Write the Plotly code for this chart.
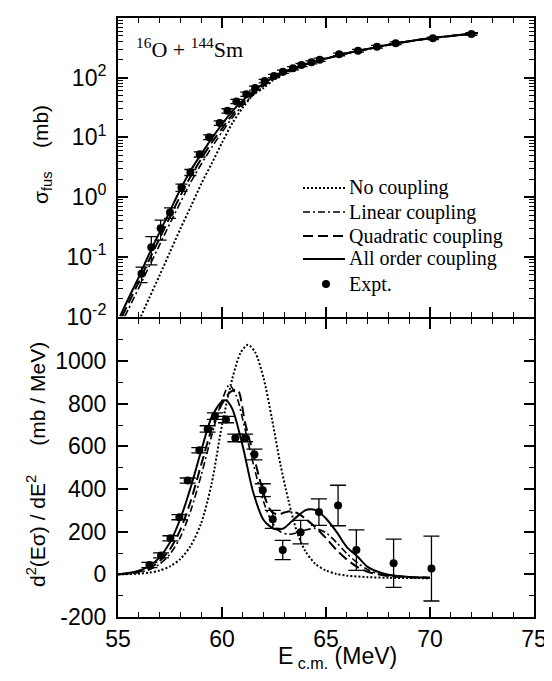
import plotly.graph_objects as go

# ---------------- top panel: fusion cross section ----------------
E_expt = [56.13, 56.6, 57.05, 57.5, 58.05, 58.48, 58.93, 59.38, 59.89, 60.26, 60.69, 61.17,
          61.59, 62.05, 62.5, 62.93, 63.41, 63.82, 64.3, 64.7, 65.63, 66.54, 67.45, 68.35,
          70.14, 71.99]
sig_expt = [0.052, 0.145, 0.30, 0.55, 1.45, 2.6, 5.2, 10.1, 17.4, 27.9, 40, 53,
            67, 88, 107, 126, 144, 163, 181, 200, 246, 284, 330, 378, 458, 540]
sig_err = [0.015, 0.072, 0.11, 0.11, 0.2, 0.3, 0.5, 0.9, 1.5, 2.3, 3.2, 4.2,
           5, 6, 7, 8, 9, 10, 11, 12, 13, 15, 17, 19, 22, 26]

E_tail = [64.0, 64.5, 65.0, 66.0, 67.0, 68.0, 69.0, 70.0, 71.0, 72.3]
sig_tail = [166, 186, 209, 257, 302, 355, 407, 457, 501, 562]

E_all = [55.1, 55.5, 56.0, 56.5, 57.0, 57.5, 58.0, 58.5, 59.0, 59.5, 60.0, 60.5, 61.0,
         61.5, 62.0, 62.5, 63.0, 63.5] + E_tail
sig_all = [0.0100, 0.0200, 0.0457, 0.112, 0.257, 0.589, 1.35, 2.82, 5.25, 9.55, 16.6, 27.5,
           41.7, 58.9, 79.4, 102, 123, 145] + sig_tail

E_quad = [55.2, 55.5, 56.0, 56.5, 57.0, 57.5, 58.0, 58.5, 59.0, 59.5, 60.0, 60.5, 61.0,
          61.5, 62.0, 62.5, 63.0, 63.5] + E_tail
sig_quad = [0.0100, 0.0166, 0.0380, 0.0891, 0.204, 0.468, 1.05, 2.24, 4.37, 8.13, 14.1, 24.0,
            38.0, 55.0, 75.9, 100, 123, 145] + sig_tail

E_lin = [55.32, 55.5, 56.0, 56.5, 57.0, 57.5, 58.0, 58.5, 59.0, 59.5, 60.0, 60.5, 61.0,
         61.5, 62.0, 62.5, 63.0, 63.5] + E_tail
sig_lin = [0.0100, 0.0132, 0.0302, 0.0692, 0.158, 0.363, 0.813, 1.78, 3.55, 6.76, 12.3, 21.4,
           34.7, 51.3, 72.4, 97.7, 120, 145] + sig_tail

E_none = [56.1, 56.5, 57.0, 57.5, 58.0, 58.5, 59.0, 59.5, 60.0, 60.5, 61.0, 61.5, 62.0,
          62.5, 63.0, 63.5, 64.0, 64.5, 65.0, 66.0, 67.0, 68.0, 69.0, 70.0, 71.0, 72.3]
sig_none = [0.0100, 0.0204, 0.0490, 0.120, 0.295, 0.692, 1.66, 3.63, 8.13, 17.4, 31.6, 51.3,
            67.6, 93.3, 115, 138, 162, 186, 209, 257, 302, 355, 407, 457, 501, 562]

# ---------------- bottom panel: barrier distribution ----------------
bd_E = [56.51, 57.07, 57.52, 57.95, 58.35, 58.91, 59.31, 59.66, 60.19, 60.64, 61.11, 61.56,
        61.96, 62.44, 62.92, 63.78, 64.66, 65.58, 66.46, 68.25, 70.07]
bd_val = [44, 89, 169, 268, 440, 582, 682, 742, 726, 640, 640, 562,
          395, 258, 114, 198, 292, 323, 114, 52, 27]
bd_err = [12, 12, 12, 12, 12, 12, 15, 15, 15, 18, 18, 25,
          30, 42, 45, 55, 62, 95, 95, 113, 152]

bdE_all = [55.0, 55.5, 56.0, 56.5, 57.0, 57.5, 58.0, 58.5, 59.0, 59.5, 60.0, 60.2, 60.5, 61.0,
           61.5, 62.0, 62.5, 62.8, 63.0, 63.5, 64.0, 64.3, 64.6, 65.0, 65.5, 66.0, 66.5, 67.0,
           67.5, 68.0, 68.5, 69.0, 70.0]
bd_all = [0, 6, 17, 38, 80, 150, 262, 410, 580, 737, 812, 816, 775, 600,
          385, 255, 213, 211, 218, 262, 300, 305, 296, 262, 200, 128, 85, 35,
          12, -2, -8, -12, -16]

bdE_quad = [55.0, 55.5, 56.0, 56.5, 57.0, 57.5, 58.0, 58.5, 59.0, 59.5, 60.0, 60.4, 60.75, 61.1,
            61.5, 61.8, 62.1, 62.4, 62.7, 63.0, 63.3, 63.6, 64.0, 64.5, 65.0, 65.5, 66.0, 66.5,
            67.0, 67.5, 68.0, 69.0, 70.0]
bd_quad = [0, 4, 12, 28, 62, 118, 210, 345, 515, 680, 800, 855, 866, 715,
           565, 450, 350, 292, 280, 290, 296, 288, 262, 220, 170, 115, 70, 35,
           12, 0, -8, -13, -16]

bdE_lin = [55.0, 55.5, 56.0, 56.5, 57.0, 57.5, 58.0, 58.5, 59.0, 59.5, 60.0, 60.35, 60.7, 61.0,
           61.5, 62.0, 62.4, 62.8, 63.2, 63.6, 64.0, 64.5, 65.0, 65.5, 66.0, 66.5, 67.0, 67.5,
           68.0, 69.0, 70.0]
bd_lin = [0, 3, 9, 22, 48, 95, 175, 300, 465, 650, 815, 888, 835, 725,
          520, 340, 245, 200, 188, 195, 208, 215, 195, 150, 98, 55, 22, 3,
          -7, -13, -16]

bdE_none = [55.0, 56.0, 56.5, 57.0, 57.5, 58.0, 58.5, 59.0, 59.5, 60.0, 60.5, 60.9, 61.25, 61.6,
            62.0, 62.4, 62.8, 63.2, 63.6, 64.0, 64.5, 65.0, 65.5, 66.0, 67.0, 68.0, 70.0]
bd_none = [0, 3, 8, 18, 38, 72, 135, 240, 425, 700, 920, 1040, 1077, 1040,
           920, 730, 520, 345, 200, 110, 48, 18, 2, -6, -13, -16, -18]

x_ticks = [55, 60, 65, 70, 75]
y1_ticks = [0.01, 0.1, 1, 10, 100, 1000]
y1_text = ["10<sup>-2</sup>", "10<sup>-1</sup>", "10<sup>0</sup>", "10<sup>1</sup>",
           "10<sup>2</sup>", "10<sup>3</sup>"]
y2_ticks = [-200, 0, 200, 400, 600, 800, 1000]
y2_text = ["-200", "0", "200", "400", "600", "800", "1000"]

legend_names = ["No coupling", "Linear coupling", "Quadratic coupling", "All order coupling", "Expt."]

SANS = "Liberation Sans, Arial, sans-serif"
SERIF = "Liberation Serif, Times New Roman, serif"
TICK_SIZE = 23

styles = {
    "none": dict(color="black", width=2, dash="2px,2px"),
    "lin": dict(color="black", width=1.6, dash="7px,3px,2px,3px"),
    "quad": dict(color="black", width=2, dash="10px,5px"),
    "all": dict(color="black", width=2),
}
style_keys = ["none", "lin", "quad", "all"]

fig = go.Figure()

curves_top = [(E_none, sig_none), (E_lin, sig_lin), (E_quad, sig_quad), (E_all, sig_all)]
for (xs, ys), key, name in zip(curves_top, style_keys, legend_names[:4]):
    fig.add_trace(go.Scatter(x=xs, y=ys, mode="lines", name=name,
                             line=dict(**styles[key], shape="spline", smoothing=0.8),
                             xaxis="x", yaxis="y", showlegend=False))
fig.add_trace(go.Scatter(x=E_expt, y=sig_expt, mode="markers", name=legend_names[4],
                         marker=dict(color="black", size=8),
                         error_y=dict(type="data", array=sig_err, color="black",
                                      thickness=1.3, width=6),
                         xaxis="x", yaxis="y", showlegend=False))

curves_bot = [(bdE_none, bd_none), (bdE_lin, bd_lin), (bdE_quad, bd_quad), (bdE_all, bd_all)]
for (xs, ys), key in zip(curves_bot, style_keys):
    fig.add_trace(go.Scatter(x=xs, y=ys, mode="lines",
                             line=dict(**styles[key], shape="spline", smoothing=0.8),
                             xaxis="x2", yaxis="y2", showlegend=False))
fig.add_trace(go.Scatter(x=bd_E, y=bd_val, mode="markers",
                         marker=dict(color="black", size=8),
                         error_y=dict(type="data", array=bd_err, color="black",
                                      thickness=1.3, width=8),
                         xaxis="x2", yaxis="y2", showlegend=False))

# page offset: the browser's default body margin is 8px
OFF = 8
FIG_W, FIG_H = 552 - OFF, 681 - 2 * OFF
# plot area in page pixels: x 118..534, y 18..617
L, T, W, H = 118 - OFF, 18 - OFF, 416, 599


def px(xp):  # page pixel x -> paper
    return (xp - 118) / W


def py(yp):  # page pixel y -> paper
    return (617 - yp) / H


legend_rows = [188, 212, 236, 259, 284]
shapes = []
annotations = []
for i, name in enumerate(legend_names):
    yy = py(legend_rows[i])
    if i < 4:
        st = styles[style_keys[i]]
        shapes.append(dict(type="line", xref="paper", yref="paper",
                           x0=px(303), x1=px(345), y0=yy, y1=yy,
                           line=dict(color="black", width=st["width"], dash=st.get("dash", "solid"))))
    else:
        shapes.append(dict(type="circle", xref="paper", yref="paper",
                           x0=px(322), x1=px(330), y0=py(legend_rows[i] - 4), y1=py(legend_rows[i] + 4),
                           fillcolor="black", line=dict(color="black", width=0)))
    annotations.append(dict(text=name, xref="paper", yref="paper", x=px(347), y=yy,
                            xanchor="left", yanchor="middle", showarrow=False,
                            font=dict(family=SERIF, size=20, color="black")))

common_x = dict(range=[55, 75], tickvals=x_ticks, ticks="inside", ticklen=10, tickwidth=1.5,
                tickcolor="black", showline=True, linewidth=2, linecolor="black",
                mirror="allticks", showgrid=False, zeroline=False, automargin=False,
                minor=dict(ticks="inside", ticklen=5, tickwidth=1.2, tickcolor="black",
                           dtick=1, tick0=55, showgrid=False),
                tickfont=dict(family=SANS, size=TICK_SIZE, color="black"))

gap = 1.0 / H
fig.update_layout(
    width=FIG_W, height=FIG_H,
    margin=dict(l=L, r=FIG_W - L - W, t=T, b=FIG_H - T - H),
    paper_bgcolor="white", plot_bgcolor="white",
    showlegend=False,
    xaxis=dict(common_x, anchor="y", domain=[0, 1], showticklabels=False),
    xaxis2=dict(common_x, anchor="y2", domain=[0, 1], showticklabels=True),
    yaxis=dict(type="log", range=[-2, 3], domain=[0.5 + gap, 1], anchor="x",
               tickvals=y1_ticks, ticktext=y1_text, ticks="inside", ticklen=10, tickwidth=1.5,
               tickcolor="black", showline=True, linewidth=2, linecolor="black",
               mirror="allticks", showgrid=False, zeroline=False, ticklabelstandoff=5,
               automargin=False,
               minor=dict(ticks="inside", ticklen=5, tickwidth=1.2, tickcolor="black",
                          dtick="D1", showgrid=False),
               tickfont=dict(family=SANS, size=TICK_SIZE, color="black")),
    yaxis2=dict(range=[-200, 1200], domain=[0, 0.5 - gap], anchor="x2",
                tickvals=y2_ticks, ticktext=y2_text, ticks="inside", ticklen=10, tickwidth=1.5,
                tickcolor="black", showline=True, linewidth=2, linecolor="black",
                mirror="allticks", showgrid=False, zeroline=False, ticklabelstandoff=5,
                automargin=False,
                minor=dict(ticks="inside", ticklen=5, tickwidth=1.2, tickcolor="black",
                           dtick=100, tick0=0, showgrid=False),
                tickfont=dict(family=SANS, size=TICK_SIZE, color="black")),
    shapes=shapes,
    annotations=annotations + [
        dict(text="<sup>16</sup>O + <sup>144</sup>Sm", xref="paper", yref="paper",
             x=px(134), y=py(48), xanchor="left", yanchor="middle", showarrow=False,
             font=dict(family=SERIF, size=22, color="black")),
        dict(text="σ<sub>fus</sub>\u00a0\u00a0\u00a0\u00a0(mb)", xref="paper", yref="paper",
             x=px(42), y=py(155), xanchor="center", yanchor="middle", textangle=-90,
             showarrow=False, font=dict(family=SANS, size=21, color="black")),
        dict(text="d<sup>2</sup>(Eσ) / dE<sup>2</sup>\u00a0\u00a0\u00a0\u00a0\u00a0(mb / MeV)",
             xref="paper", yref="paper",
             x=px(36), y=py(465), xanchor="center", yanchor="middle", textangle=-90,
             showarrow=False, font=dict(family=SANS, size=21, color="black")),
        dict(text="E<sub> c.m.</sub> (MeV)", xref="paper", yref="paper",
             x=px(337), y=py(641), xanchor="center", yanchor="top", showarrow=False,
             font=dict(family=SANS, size=23, color="black")),
    ],
)

fig.write_html("out.html")
